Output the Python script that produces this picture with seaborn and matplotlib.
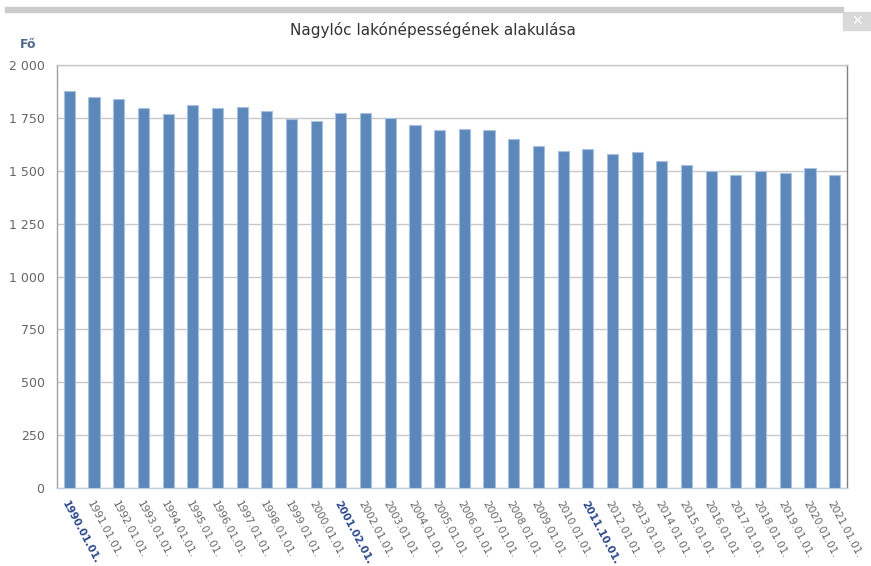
import numpy as np
import pandas as pd
import matplotlib
matplotlib.use('Agg')
import matplotlib.pyplot as plt
import seaborn as sns
from matplotlib.patches import Rectangle

dates = ['1990.01.01.', '1991.01.01.', '1992.01.01.', '1993.01.01.', '1994.01.01.',
         '1995.01.01.', '1996.01.01.', '1997.01.01.', '1998.01.01.', '1999.01.01.',
         '2000.01.01.', '2001.02.01.', '2002.01.01.', '2003.01.01.', '2004.01.01.',
         '2005.01.01.', '2006.01.01.', '2007.01.01.', '2008.01.01.', '2009.01.01.',
         '2010.01.01.', '2011.10.01.', '2012.01.01.', '2013.01.01.', '2014.01.01.',
         '2015.01.01.', '2016.01.01.', '2017.01.01.', '2018.01.01.', '2019.01.01.',
         '2020.01.01.', '2021.01.01.']
population = [1877, 1850, 1841, 1798, 1770, 1813, 1798, 1802, 1783, 1747,
              1737, 1774, 1774, 1750, 1718, 1694, 1699, 1694, 1650, 1616,
              1594, 1602, 1580, 1589, 1546, 1527, 1500, 1481, 1500, 1489,
              1513, 1481]
census_dates = ['1990.01.01.', '2001.02.01.', '2011.10.01.']
y_ticks = [0, 250, 500, 750, 1000, 1250, 1500, 1750, 2000]

df = pd.DataFrame({'datum': dates, 'fo': population})

sns.set_style('white')
plt.rcParams['font.family'] = ['DejaVu Sans']

fig = plt.figure(figsize=(8.71, 5.66), dpi=100)
ax = fig.add_axes([57/871, 78/566, 790/871, 423/566])

sns.barplot(data=df, x='datum', y='fo', color='#5B87BA', saturation=1,
            width=0.45, edgecolor='#A9C1DE', linewidth=0.8, ax=ax, zorder=3)

ax.set_ylim(0, 2000)
ax.set_xlim(-0.5, len(dates) - 0.5)
ax.set_yticks(y_ticks)
ax.set_yticklabels([f'{v:,}'.replace(',', ' ') for v in y_ticks],
                   color='#666666', fontsize=9)
ax.yaxis.grid(True, color='#C8C8C8', linewidth=1, zorder=0)
ax.tick_params(axis='y', length=0, pad=9)

# category boundary ticks on x axis
ax.set_xticks(np.arange(-0.5, len(dates), 1), minor=True)
ax.tick_params(axis='x', which='minor', length=5, color='#C0D0E0', width=1)
ax.tick_params(axis='x', which='major', length=0, pad=8)
ax.set_xticks(range(len(dates)))
ax.set_xticklabels(dates, rotation=-62, ha='left', va='top',
                   rotation_mode='anchor', fontsize=7.5)
for lbl in ax.get_xticklabels():
    if lbl.get_text() in census_dates:
        lbl.set_color('#2E4A8C')
        lbl.set_fontweight('bold')
    else:
        lbl.set_color('#666666')

ax.set_xlabel('')
ax.set_ylabel('')
ax.spines['left'].set_color('#A0A0A0')
ax.spines['right'].set_color('#808080')
ax.spines['top'].set_color('#C8C8C8')
ax.spines['bottom'].set_color('#C0D0E0')
for s in ax.spines.values():
    s.set_linewidth(1)

fig.text(433/871, 1 - 30/566, 'Nagylóc lakónépességének alakulása',
         ha='center', va='center', fontsize=11, color='#333333')
fig.text(20/871, 1 - 45/566, 'Fő', ha='left', va='center',
         fontsize=9, fontweight='bold', color='#4D6A8F')

# window decorations
fig.patches.append(Rectangle((5/871, 1 - 12/566), 838/871, 5/566,
                             transform=fig.transFigure, color='#CCCCCC'))
fig.patches.append(Rectangle((843/871, 1 - 30/566), 28/871, 18/566,
                             transform=fig.transFigure, color='#D9D9D9'))
fig.text(857/871, 1 - 21/566, '✕', ha='center', va='center',
         fontsize=10, color='white', fontweight='bold')

fig.savefig('out.png', dpi=100)
